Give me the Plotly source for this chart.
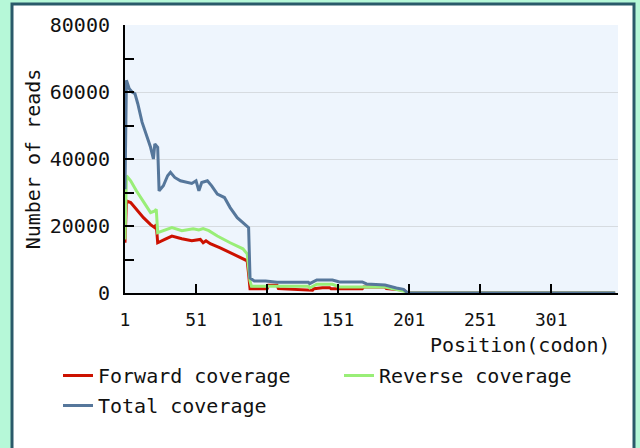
import plotly.graph_objects as go

# Data (codon position, number of reads)
total_pos = [1, 2, 4, 6, 8, 10, 13, 16, 19, 21, 22, 24, 25, 28, 31, 33, 36, 40, 44, 48, 51, 53, 55,
             59, 62, 66, 71, 75, 80, 84, 88, 89, 92, 100, 108, 130, 131, 136, 147, 152, 168, 171,
             184, 192, 197, 200, 250, 300, 346]
total_val = [31000, 63500, 61000, 60000, 59500, 56500, 51000, 47000, 43500, 40000, 44500, 43500,
             30500, 32000, 35000, 36000, 34500, 33500, 33000, 32700, 33500, 30500, 33000, 33500,
             32000, 29500, 28500, 25500, 22500, 21000, 19500, 4500, 3600, 3600, 3200, 3200, 2800,
             3900, 3900, 3300, 3300, 2700, 2400, 1500, 1100, 0, 0, 0, 0]

fwd_pos = [1, 2, 5, 9, 14, 19, 22, 23, 24, 29, 34, 41, 48, 54, 56, 58, 61, 68, 75, 82, 87, 88, 89,
           101, 102, 108, 109, 133, 134, 140, 145, 146, 168, 169, 184, 185, 197, 200, 250, 300, 346]
fwd_val = [15000, 27500, 27000, 25000, 22500, 20400, 19500, 20500, 15000, 16000, 17000, 16200,
           15600, 16000, 15000, 15600, 14700, 13500, 12000, 10500, 9600, 5700, 1300, 1300, 2300,
           2300, 1300, 800, 1300, 1600, 1600, 1300, 1300, 1800, 1800, 1300, 900, 0, 0, 0, 0]

rev_pos = [1, 2, 5, 9, 15, 19, 22, 23, 24, 31, 34, 41, 49, 53, 56, 60, 66, 75, 84, 87, 89, 90, 100,
           130, 131, 136, 147, 152, 184, 192, 197, 200, 250, 300, 346]
rev_val = [16000, 35000, 33500, 30500, 26600, 24000, 24500, 25000, 18000, 19200, 19500, 18600,
           19200, 18800, 19200, 18600, 17000, 15000, 13200, 11700, 3600, 2000, 2000, 2000, 1500,
           2600, 2600, 1800, 1800, 1000, 600, 0, 0, 0, 0]

x_ticks = [1, 51, 101, 151, 201, 251, 301]
y_ticks = [0, 20000, 40000, 60000, 80000]

MONO = "DejaVu Sans Mono"
MINT = "#b6f8d8"

fig = go.Figure()
fig.add_trace(go.Scatter(x=fwd_pos, y=fwd_val, mode="lines", name="Forward coverage",
                         line=dict(color="#cc1100", width=3), legend="legend"))
fig.add_trace(go.Scatter(x=rev_pos, y=rev_val, mode="lines", name="Reverse coverage",
                         line=dict(color="#99ee77", width=3), legend="legend"))
fig.add_trace(go.Scatter(x=total_pos, y=total_val, mode="lines", name="Total coverage",
                         line=dict(color="#56779b", width=3), legend="legend2"))

L, R, T, B = 125, 22, 25, 155
W, H = 640, 448
pw, ph = W - L - R, H - T - B

def px(p):
    return (p - L) / pw

def py(p):
    return (H - B - p) / ph

legend_common = dict(orientation="h", xanchor="left", yanchor="top",
                     entrywidth=236, entrywidthmode="pixels",
                     font=dict(family=MONO, size=20, color="#111111"),
                     bgcolor="rgba(0,0,0,0)", tracegroupgap=0)

fig.update_layout(
    width=W, height=H,
    margin=dict(l=L, r=R, t=T, b=B, pad=0),
    paper_bgcolor=MINT,
    plot_bgcolor="rgba(0,0,0,0)",
    font=dict(family=MONO, size=16, color="#111111"),
    showlegend=True,
    legend=dict(x=px(58), y=py(356), **legend_common),
    legend2=dict(x=px(58), y=py(386), **legend_common),
    shapes=[
        dict(type="rect", xref="paper", yref="paper", x0=px(12), x1=px(634), y0=py(470), y1=py(4),
             fillcolor="white", line=dict(color="#2a5a6a", width=3), layer="below"),
        dict(type="rect", xref="paper", yref="paper", x0=0, x1=1, y0=0, y1=1,
             fillcolor="#eef5fd", line=dict(width=0), layer="below"),
    ],
    annotations=[
        dict(text="Position(codon)", xref="paper", yref="paper", x=px(613), y=py(345),
             xanchor="right", yanchor="middle", showarrow=False,
             font=dict(family=MONO, size=20, color="#111111")),
    ],
)

fig.update_xaxes(range=[1, 348], tickvals=x_ticks, ticktext=[str(v) for v in x_ticks],
                 ticks="inside", ticklen=9, tickwidth=2, tickcolor="black",
                 showline=True, linecolor="black", linewidth=2, showgrid=False, zeroline=False,
                 tickfont=dict(family=MONO, size=18), ticklabelstandoff=9)
fig.update_yaxes(range=[0, 80000], tickvals=y_ticks, ticktext=[str(v) for v in y_ticks],
                 ticks="inside", ticklen=9, tickwidth=2, tickcolor="black",
                 minor=dict(dtick=10000, ticks="inside", ticklen=9, tickwidth=2, tickcolor="black",
                            showgrid=False),
                 showline=True, linecolor="black", linewidth=2,
                 showgrid=True, gridcolor="#d6dbe0", gridwidth=1, zeroline=False,
                 tickfont=dict(family=MONO, size=20), ticklabelstandoff=9,
                 title=dict(text="Number of reads", font=dict(family=MONO, size=20), standoff=4))

fig.write_html("out.html", config={"displayModeBar": False},
               post_script="document.body.style.margin='0';document.body.style.background='%s';" % MINT)
